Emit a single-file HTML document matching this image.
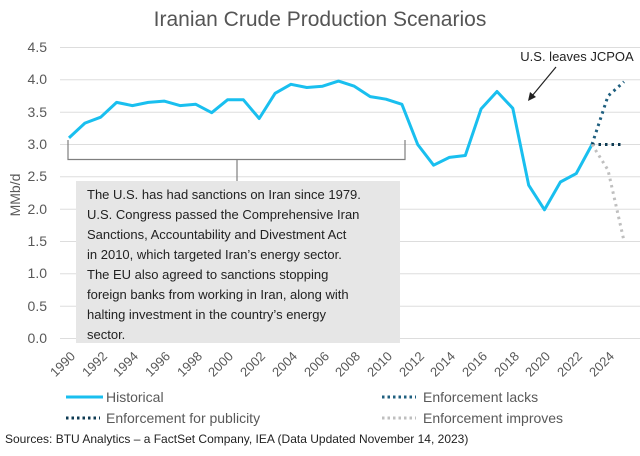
<!DOCTYPE html><html><head><style>body{margin:0;background:#fff}svg{font-family:"Liberation Sans",sans-serif}</style></head><body>
<svg width="640" height="451" viewBox="0 0 640 451">
<text x="320" y="26" text-anchor="middle" font-size="21" fill="#555">Iranian Crude Production Scenarios</text>
<g stroke="#ddd" stroke-width="1">
<line x1="60" x2="640" y1="47.5" y2="47.5"/><line x1="60" x2="640" y1="79.8" y2="79.8"/><line x1="60" x2="640" y1="112.2" y2="112.2"/><line x1="60" x2="640" y1="144.5" y2="144.5"/><line x1="60" x2="640" y1="176.8" y2="176.8"/><line x1="60" x2="640" y1="209.2" y2="209.2"/><line x1="60" x2="640" y1="241.5" y2="241.5"/><line x1="60" x2="640" y1="273.8" y2="273.8"/><line x1="60" x2="640" y1="306.2" y2="306.2"/><line x1="60" x2="640" y1="338.5" y2="338.5"/></g>
<g font-size="14" fill="#595959" text-anchor="end">
<text x="47" y="52">4.5</text><text x="47" y="84">4.0</text><text x="47" y="117">3.5</text><text x="47" y="149">3.0</text><text x="47" y="181">2.5</text><text x="47" y="214">2.0</text><text x="47" y="246">1.5</text><text x="47" y="278">1.0</text><text x="47" y="311">0.5</text><text x="47" y="343">0.0</text></g>
<text transform="translate(20,195) rotate(-90)" text-anchor="middle" font-size="14" fill="#595959">MMb/d</text>
<g font-size="13" fill="#595959" text-anchor="end">
<text transform="translate(76,357) rotate(-45)">1990</text><text transform="translate(108,357) rotate(-45)">1992</text><text transform="translate(139,357) rotate(-45)">1994</text><text transform="translate(171,357) rotate(-45)">1996</text><text transform="translate(203,357) rotate(-45)">1998</text><text transform="translate(234,357) rotate(-45)">2000</text><text transform="translate(266,357) rotate(-45)">2002</text><text transform="translate(298,357) rotate(-45)">2004</text><text transform="translate(330,357) rotate(-45)">2006</text><text transform="translate(361,357) rotate(-45)">2008</text><text transform="translate(393,357) rotate(-45)">2010</text><text transform="translate(425,357) rotate(-45)">2012</text><text transform="translate(456,357) rotate(-45)">2014</text><text transform="translate(488,357) rotate(-45)">2016</text><text transform="translate(520,357) rotate(-45)">2018</text><text transform="translate(551,357) rotate(-45)">2020</text><text transform="translate(583,357) rotate(-45)">2022</text><text transform="translate(615,357) rotate(-45)">2024</text></g>
<path d="M68 140V159.5H405V140M237 159.5V181" fill="none" stroke="#7f7f7f" stroke-width="1.2"/>
<rect x="76" y="181" width="324" height="162" fill="#e6e6e6"/>
<g font-size="13" fill="#222"><text x="87" y="199">The U.S. has had sanctions on Iran since 1979.</text><text x="87" y="219">U.S. Congress passed the Comprehensive Iran</text><text x="87" y="239">Sanctions, Accountability and Divestment Act</text><text x="87" y="259">in 2010,  which targeted Iran’s energy sector.</text><text x="87" y="279">The EU also agreed to sanctions stopping</text><text x="87" y="299">foreign banks from working in Iran, along with</text><text x="87" y="319">halting investment in the country’s energy</text><text x="87" y="339">sector.</text></g>
<polyline fill="none" stroke="#19bfef" stroke-width="3" stroke-linejoin="round" points="69,137.9 84.9,123.1 100.7,117.2 116.6,102.4 132.4,105.6 148.3,102.4 164.1,101.1 180,105.6 195.8,104.3 211.7,112.7 227.5,99.8 243.4,99.8 259.2,118.5 275.1,93.3 290.9,84.3 306.8,87.5 322.6,86.2 338.5,81.1 354.3,86.2 370.2,96.6 386,99.2 401.9,104.3 417.7,144.5 433.6,165.2 449.4,157.4 465.3,155.5 481.1,108.9 497,91.5 512.8,108.3 528.7,185.2 544.5,209.8 560.4,182 576.2,173.6 592,144.5"/>
<polyline fill="none" stroke="#1f5f7f" stroke-width="3" stroke-dasharray="2.5 4" points="592,144.5 608,96 624,81.8"/>
<polyline fill="none" stroke="#0d3a52" stroke-width="3" stroke-dasharray="2.5 4" points="592,144.5 608,144.5 624,144.5"/>
<polyline fill="none" stroke="#bfbfbf" stroke-width="3" stroke-dasharray="2.5 4" points="592,144.5 608,170 624,241"/>
<text x="577" y="61" text-anchor="middle" font-size="13" fill="#222">U.S. leaves JCPOA</text>
<line x1="556" y1="67" x2="532" y2="96" stroke="#222" stroke-width="1.2"/><path d="M528 101l2-9 6 5z" fill="#222"/>
<g font-size="14" fill="#595959"><line x1="66" x2="103" y1="397" y2="397" stroke="#19bfef" stroke-width="3"/><text x="106" y="402">Historical</text>
<line x1="66" x2="100" y1="418" y2="418" stroke="#0d3a52" stroke-width="3" stroke-dasharray="2.5 3"/><text x="106" y="423">Enforcement for publicity</text>
<line x1="382" x2="416" y1="397" y2="397" stroke="#1f5f7f" stroke-width="3" stroke-dasharray="2.5 3"/><text x="423" y="402">Enforcement lacks</text>
<line x1="382" x2="416" y1="418" y2="418" stroke="#bfbfbf" stroke-width="3" stroke-dasharray="2.5 3"/><text x="423" y="423">Enforcement improves</text></g>
<text x="5" y="443" font-size="12" fill="#222">Sources: BTU Analytics – a FactSet Company, IEA (Data Updated November 14, 2023)</text>
</svg></body></html>
